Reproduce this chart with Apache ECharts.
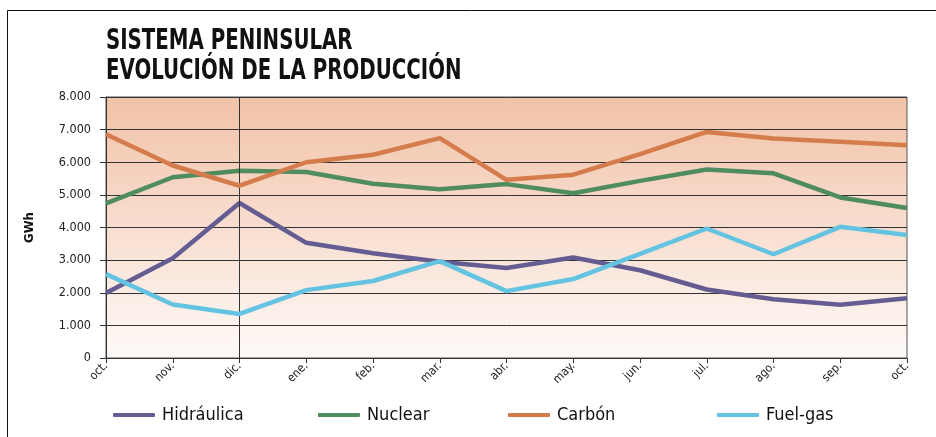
<!DOCTYPE html>
<html>
<head>
<meta charset="utf-8">
<script src="https://cdn.jsdelivr.net/npm/echarts@6/dist/echarts.min.js"></script>
<style>html,body{margin:0;padding:0;background:#fff}#c{width:936px;height:437px}</style>
</head>
<body>
<div id="c"></div>
<script>
const categories = ['oct.','nov.','dic.','ene.','feb.','mar.','abr.','may.','jun.','jul.','ago.','sep.','oct.'];
const hidraulica = [1990, 3060, 4750, 3530, 3210, 2950, 2760, 3080, 2690, 2100, 1800, 1630, 1830];
const nuclear    = [4740, 5540, 5740, 5700, 5340, 5170, 5330, 5050, 5430, 5780, 5660, 4920, 4600];
const carbon     = [6860, 5900, 5280, 6000, 6230, 6740, 5460, 5620, 6250, 6930, 6730, 6630, 6520];
const fuelgas    = [2570, 1640, 1350, 2080, 2360, 2970, 2050, 2420, 3190, 3970, 3180, 4020, 3770];
const yTicks = [0, 1000, 2000, 3000, 4000, 5000, 6000, 7000, 8000];
const yTickLabels = ['0','1.000','2.000','3.000','4.000','5.000','6.000','7.000','8.000'];
const seriesNames = ['Hidráulica','Nuclear','Carbón','Fuel-gas'];
const titleLines = ['SISTEMA PENINSULAR', 'EVOLUCIÓN DE LA PRODUCCIÓN'];
const colors = ['#655d91','#4f8c5e','#d57c4d','#63c3e1'];

const NARROW = "'Liberation Sans Narrow','DejaVu Sans Condensed',sans-serif";
const chart = echarts.init(document.getElementById('c'), null, {renderer:'canvas'});
const seriesData = [hidraulica, nuclear, carbon, fuelgas];
const legendLefts = [108, 313, 503, 712];

chart.setOption({
  animation: false,
  backgroundColor: '#ffffff',
  legend: seriesNames.map((n, i) => ({
    data: [n], left: legendLefts[i], top: 401,
    icon: 'roundRect', itemWidth: 42, itemHeight: 4, itemGap: 5,
    textStyle: {fontFamily: NARROW, fontSize: 18, color: '#111', padding: [0, 0, 0, 2]}
  })),
  grid: {
    left: 106, right: 29, top: 97, bottom: 79,
    show: true, borderColor: '#555', borderWidth: 1,
    backgroundColor: new echarts.graphic.LinearGradient(0, 0, 0, 1, [
      {offset: 0, color: '#f1c2a6'},
      {offset: 0.5, color: '#f8ded0'},
      {offset: 1, color: '#fefaf8'}
    ])
  },
  xAxis: {
    type: 'category', data: categories, boundaryGap: false,
    axisLine: {lineStyle: {color: '#333', width: 1}},
    axisTick: {show: true, length: 5, lineStyle: {color: '#333'}, alignWithLabel: true},
    axisLabel: {rotate: 45, fontFamily: NARROW, fontSize: 12, color: '#222', margin: 6},
    splitLine: {show: false}
  },
  yAxis: {
    type: 'value', min: 0, max: 8000, interval: 1000,
    name: 'GWh', nameLocation: 'middle', nameRotate: 90, nameGap: 70,
    nameTextStyle: {fontFamily: NARROW, fontWeight: 'bold', fontSize: 13, color: '#111'},
    axisLine: {show: true, lineStyle: {color: '#333'}},
    axisTick: {show: true, length: 6, lineStyle: {color: '#333'}},
    axisLabel: {fontFamily: NARROW, fontSize: 12.5, color: '#222', margin: 15,
      formatter: v => yTickLabels[yTicks.indexOf(v)]},
    splitLine: {show: true, lineStyle: {color: '#333', width: 1}}
  },
  series: seriesNames.map((n, i) => ({
    name: n, type: 'line', data: seriesData[i],
    symbol: 'none', lineStyle: {width: 4.5, color: colors[i]}, itemStyle: {color: colors[i]},
    z: 3 + i,
    markLine: i === 0 ? {
      silent: true, symbol: 'none', label: {show: false},
      lineStyle: {color: '#333', width: 1, type: 'solid'},
      data: [{xAxis: 2}]
    } : undefined
  })),
  graphic: [
    {type: 'line', shape: {x1: 7.5, y1: 10.5, x2: 936, y2: 10.5}, style: {stroke: '#111', lineWidth: 1}},
    {type: 'line', shape: {x1: 7.5, y1: 10.5, x2: 7.5, y2: 437}, style: {stroke: '#111', lineWidth: 1}},
    {type: 'text', x: 106, y: 27, scaleX: 0.785, scaleY: 1,
      style: {text: titleLines.join('\n'), font: "bold 28px 'DejaVu Sans Condensed', sans-serif",
        fill: '#111', lineHeight: 30, textVerticalAlign: 'top'}}
  ]
});
</script>
</body>
</html>
